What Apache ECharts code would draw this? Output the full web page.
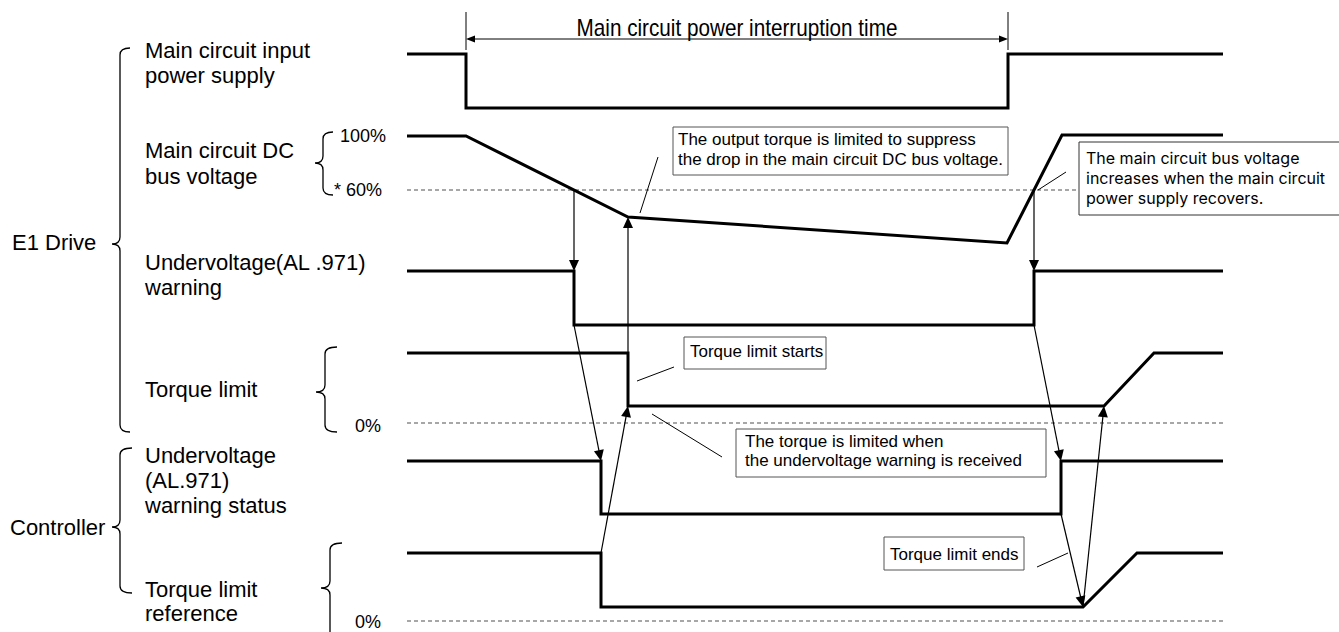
<!DOCTYPE html>
<html>
<head>
<meta charset="utf-8">
<title>Main circuit power interruption</title>
<script src="https://cdn.jsdelivr.net/npm/echarts@6/dist/echarts.min.js"></script>
<style>
    html, body { margin: 0; padding: 0; background: #fff; }
    #timing { width: 1339px; height: 632px; }
</style>
</head>
<body>
<div id="timing"></div>
<script>
// 1. 波形数据 [时间, 电平]（坐标轴与原图像素一一对应）
var inputPower   = [[407, 54], [466, 54], [466, 108], [1008, 108], [1008, 54], [1223, 54]];
var dcBusVoltage = [[407, 136], [466, 136], [628, 217], [1007, 243], [1062, 135], [1223, 135]];
var uvWarning    = [[407, 271], [574, 271], [574, 325], [1034, 325], [1034, 271], [1223, 271]];
var torqueLimit  = [[407, 353], [628, 353], [628, 406], [1104, 406], [1154, 353], [1223, 353]];
var uvStatus     = [[407, 461], [601, 461], [601, 514], [1061, 514], [1061, 461], [1223, 461]];
var torqueRef    = [[407, 553], [601, 553], [601, 607], [1083, 607], [1137, 553], [1223, 553]];

// 参考电平：60% / 0% / 0%
var refLevels = [190, 423, 621];
var refSpan = [407, 1223];

// 因果箭头 [x1, y1, x2, y2]
var causeArrows = [
    [574, 190, 574, 271],
    [1034, 190, 1034, 271],
    [574, 325, 601, 461],
    [1034, 325, 1061, 461],
    [601, 553, 628, 406],
    [628, 353, 628, 217],
    [1061, 514, 1083, 607],
    [1083, 607, 1104, 406]
];

// 停电时间标注
var spanTimes = [466, 1008];
var spanY = 39;
var spanTicks = [[466, 12, 466, 50], [1008, 12, 1008, 50]];

// 说明框引线
var leaders = [
    [640, 213, 658, 157],
    [1038, 190, 1066, 172],
    [637, 381, 674, 367],
    [652, 414, 722, 457],
    [1037, 567, 1068, 553]
];

// 文字
var spanTitle = "Main circuit power interruption time";
var rowLabels = [
    ["Main circuit input", "power supply"],
    ["Main circuit DC", "bus voltage"],
    ["Undervoltage(AL .971)", "warning"],
    ["Torque limit"],
    ["Undervoltage", "(AL.971)", "warning status"],
    ["Torque limit", "reference"]
];
var groupLabels = ["E1 Drive", "Controller"];
var levelLabels = ["100%", "* 60%", "0%", "0%"];
var notes = [
    ["The output torque is limited to suppress", "the drop in the main circuit DC bus voltage."],
    ["The main circuit bus voltage", "increases when the main circuit", "power supply recovers."],
    ["Torque limit starts"],
    ["The torque is limited when", "the undervoltage warning is received"],
    ["Torque limit ends"]
];

(function () {
    var ARIAL = '"Liberation Sans", Arial, Helvetica, sans-serif';
    var HUMAN = 'Inter, "Noto Sans", sans-serif';
    var myChart = echarts.init(document.getElementById("timing"), null, { renderer: "svg" });

    // 箭头/细线
    function segment(headLen, headW, lineW) {
        return function (params, api) {
            var p1 = api.coord([api.value(0), api.value(1)]);
            var p2 = api.coord([api.value(2), api.value(3)]);
            var dx = p2[0] - p1[0], dy = p2[1] - p1[1];
            var len = Math.sqrt(dx * dx + dy * dy);
            var ux = dx / len, uy = dy / len;
            var end = headLen ? [p2[0] - ux * headLen * 0.7, p2[1] - uy * headLen * 0.7] : p2;
            var children = [{
                type: "line",
                shape: { x1: p1[0], y1: p1[1], x2: end[0], y2: end[1] },
                style: { stroke: "#000", lineWidth: lineW }
            }];
            if (headLen) {
                var bx = p2[0] - ux * headLen, by = p2[1] - uy * headLen;
                children.push({
                    type: "polygon",
                    shape: { points: [[p2[0], p2[1]], [bx - uy * headW / 2, by + ux * headW / 2], [bx + uy * headW / 2, by - ux * headW / 2]] },
                    style: { fill: "#000" }
                });
            }
            return { type: "group", children: children };
        };
    }

    // 大括号 [x, 上端, 尖角, 下端, 钩长, 尖长]
    var braces = [
        [120, 48, 244, 432, 10, 8],
        [120, 448, 527, 593, 12, 8],
        [323, 132, 163, 195, 10, 8],
        [325, 347, 392, 432, 12, 9],
        [330, 543, 588, 645, 12, 9]
    ];
    function braceItem(params, api) {
        var a = api.coord([api.value(0), api.value(1)]);
        var m = api.coord([api.value(0), api.value(2)]);
        var b = api.coord([api.value(0), api.value(3)]);
        var hook = api.value(4), tip = api.value(5), r = 7;
        var d = "M" + (a[0] + hook) + " " + a[1] +
            " Q" + a[0] + " " + a[1] + " " + a[0] + " " + (a[1] + r) +
            " L" + m[0] + " " + (m[1] - r) +
            " Q" + m[0] + " " + m[1] + " " + (m[0] - tip) + " " + m[1] +
            " Q" + m[0] + " " + m[1] + " " + m[0] + " " + (m[1] + r) +
            " L" + b[0] + " " + (b[1] - r) +
            " Q" + b[0] + " " + b[1] + " " + (b[0] + hook) + " " + b[1];
        return {
            type: "path",
            shape: { pathData: d },
            style: { fill: "none", stroke: "#000", lineWidth: 1.3 }
        };
    }

    function wave(data) {
        return {
            type: "line",
            data: data,
            showSymbol: false,
            symbol: "none",
            silent: true,
            z: 4,
            lineStyle: { color: "#000", width: 3, join: "miter", cap: "butt" }
        };
    }

    var series = [];
    refLevels.forEach(function (lv) {
        series.push({
            type: "line",
            data: [[refSpan[0], lv], [refSpan[1], lv]],
            symbol: "none",
            silent: true,
            z: 2,
            lineStyle: { color: "#8a8a8a", width: 1.5, type: [4, 3] }
        });
    });
    [inputPower, dcBusVoltage, uvWarning, torqueLimit, uvStatus, torqueRef].forEach(function (d) {
        series.push(wave(d));
    });
    series.push({
        type: "custom",
        renderItem: segment(11, 10, 1.2),
        data: causeArrows,
        encode: { x: [0, 2], y: [1, 3] },
        silent: true,
        z: 6
    });
    var mid = (spanTimes[0] + spanTimes[1]) / 2;
    series.push({
        type: "custom",
        renderItem: segment(9, 7, 1),
        data: [[mid, spanY, spanTimes[0], spanY], [mid, spanY, spanTimes[1], spanY]],
        encode: { x: [0, 2], y: [1, 3] },
        silent: true,
        z: 6
    });
    series.push({
        type: "custom",
        renderItem: segment(0, 0, 1),
        data: spanTicks.concat(leaders),
        encode: { x: [0, 2], y: [1, 3] },
        silent: true,
        z: 6
    });
    series.push({
        type: "custom",
        renderItem: braceItem,
        data: braces,
        encode: { x: 0, y: [1, 3] },
        silent: true,
        clip: false,
        z: 6
    });

    var option = {
        animation: false,
        backgroundColor: "#fff",
        grid: { left: 0, right: 0, top: 0, bottom: 0 },
        xAxis: { type: "value", min: 0, max: 1339, show: false },
        yAxis: { type: "value", min: 0, max: 632, inverse: true, show: false },
        series: series
    };
    myChart.setOption(option);

    // 2. 文字与说明框（位置经坐标轴换算）
    function px(x, y) {
        return myChart.convertToPixel({ gridIndex: 0 }, [x, y]);
    }
    var graphics = [];
    // lines 为多行时合成一个文字块，y 为中心
    function text(lines, x, y, size, family, lh, align, sx) {
        var p = px(x, y);
        var str = Array.isArray(lines) ? lines.join("\n") : lines;
        graphics.push({
            type: "text", x: p[0], y: p[1], z: 20, silent: true,
            scaleX: sx || 1,
            style: {
                text: str, font: size + "px " + family, fill: "#000",
                lineHeight: lh || size + 3,
                align: align || "left", verticalAlign: "middle",
                textAlign: align || "left", textVerticalAlign: "middle"
            }
        });
    }
    function box(x0, y0, x1, y1, stroke) {
        var a = px(x0, y0), b = px(x1, y1);
        graphics.push({
            type: "rect", silent: true, z: 15,
            shape: { x: a[0], y: a[1], width: b[0] - a[0], height: b[1] - a[1] },
            style: { fill: "#fff", stroke: stroke || "#555", lineWidth: 1 }
        });
    }

    // 标题（窄字体效果）
    text(spanTitle, mid, 28, 23, ARIAL, 23, "center", 0.9);

    // 左侧信号名
    var rowX = 145;
    var rowCenters = [63, 163.5, 274.5, 389, 480, 601];
    var rowSteps = [25, 26, 25, 25, 25, 24];
    rowLabels.forEach(function (lines, i) {
        text(lines, rowX, rowCenters[i], 22, ARIAL, rowSteps[i]);
    });
    text(groupLabels[0], 12, 242.5, 22, ARIAL);
    text(groupLabels[1], 10, 527.5, 22, ARIAL);

    // 电平
    text(levelLabels[0], 340, 135.5, 18, ARIAL);
    text(levelLabels[1], 334, 190, 18, ARIAL);
    text(levelLabels[2], 355, 425.5, 18, ARIAL);
    text(levelLabels[3], 355, 622, 18, ARIAL);

    // 说明框
    box(673, 127, 1008, 175);
    text(notes[0], 678, 149, 17, ARIAL, 20);

    box(1079, 142, 1345, 215, "#333");
    text(notes[1], 1086, 178, 16, HUMAN, 20);

    box(684, 337, 826, 369);
    text(notes[2], 690, 351, 17, ARIAL);

    box(736, 429, 1046, 477);
    text(notes[3], 745, 451, 17, ARIAL, 19.5);

    box(884, 537, 1024, 570);
    text(notes[4], 890, 554, 17, ARIAL);

    myChart.setOption({ graphic: graphics });

    window.addEventListener("resize", function () {
        myChart.resize();
    });
})();
</script>
</body>
</html>
